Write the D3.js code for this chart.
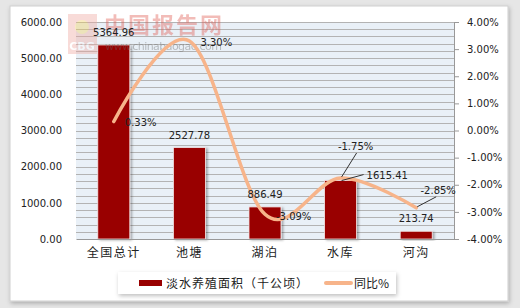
<!DOCTYPE html>
<html>
<head>
<meta charset="utf-8">
<script src="https://cdn.jsdelivr.net/npm/d3@7"></script>
<style>
  body { margin: 0; background: #e6e6e6; }
  text { font-family: "DejaVu Sans", sans-serif; }
  .cjk { font-family: "Noto Sans CJK SC", sans-serif; }
</style>
</head>
<body>
<div id="chart-area"></div>
<script>
// data
const categories = ["全国总计", "池塘", "湖泊", "水库", "河沟"]
const areaValues = [5364.96, 2527.78, 886.49, 1615.41, 213.74]
const yoyValues = [0.33, 3.30, -3.09, -1.75, -2.85]
const leftTicks = [0, 1000, 2000, 3000, 4000, 5000, 6000]
const rightTicks = [-4, -3, -2, -1, 0, 1, 2, 3, 4]
const seriesNames = ["淡水养殖面积（千公顷）", "同比%"]

const W = 520, H = 308
const PLOT = {LEFT: 76, RIGHT: 454, TOP: 22, BOTTOM: 239}

const svg = d3.select("#chart-area").append("svg")
  .attr("width", W)
  .attr("height", H)

const defs = svg.append("defs")
const sh = defs.append("filter").attr("id", "shadow")
  .attr("x", "-10%").attr("y", "-10%").attr("width", "130%").attr("height", "140%")
sh.append("feDropShadow").attr("dx", 1).attr("dy", 2).attr("stdDeviation", 2)
  .attr("flood-color", "#000").attr("flood-opacity", 0.25)
const bsh = defs.append("filter").attr("id", "barshadow")
  .attr("x", "-20%").attr("y", "-10%").attr("width", "150%").attr("height", "130%")
bsh.append("feDropShadow").attr("dx", 2).attr("dy", 1).attr("stdDeviation", 1.2)
  .attr("flood-color", "#000").attr("flood-opacity", 0.3)

// outer panel
svg.append("rect")
  .attr("x", 10).attr("y", 6).attr("width", 498).attr("height", 295)
  .attr("fill", "#fff")
  .attr("stroke", "#cfcfcf")
  .attr("filter", "url(#shadow)")

const x = d3.scaleBand()
  .domain(categories)
  .range([PLOT.LEFT, PLOT.RIGHT])

const yL = d3.scaleLinear().domain([0, 6000]).range([PLOT.BOTTOM, PLOT.TOP])
const yR = d3.scaleLinear().domain([-4, 4]).range([PLOT.BOTTOM, PLOT.TOP])

// plot background + minor grid
svg.append("rect")
  .attr("x", PLOT.LEFT).attr("y", PLOT.TOP)
  .attr("width", PLOT.RIGHT - PLOT.LEFT).attr("height", PLOT.BOTTOM - PLOT.TOP)
  .attr("fill", "#e9f0f7")

svg.append("g").selectAll("line")
  .data(d3.range(200, 6001, 200))
  .enter().append("line")
  .attr("x1", PLOT.LEFT).attr("x2", PLOT.RIGHT)
  .attr("y1", d => Math.round(yL(d)) + 0.5)
  .attr("y2", d => Math.round(yL(d)) + 0.5)
  .attr("stroke", "#b3b3b3")

// bars
const barW = 32
svg.append("g").selectAll("rect")
  .data(areaValues)
  .enter().append("rect")
  .attr("x", (d, i) => x(categories[i]) + x.bandwidth() / 2 - barW / 2)
  .attr("y", d => yL(d))
  .attr("width", barW)
  .attr("height", d => PLOT.BOTTOM - yL(d))
  .attr("fill", "#990000")
  .attr("stroke", "#f3e6e6")
  .attr("stroke-width", 0.8)
  .attr("filter", "url(#barshadow)")

// watermark (sits over the bars, semi transparent)
const wm = svg.append("g").attr("opacity", 0.4)
wm.append("rect")
  .attr("x", 68).attr("y", 14).attr("width", 29).attr("height", 40)
  .attr("fill", "#f0a8a0")
wm.append("circle")
  .attr("cx", 82).attr("cy", 27).attr("r", 7)
  .attr("fill", "#f2d060")
wm.append("text")
  .attr("x", 82).attr("y", 50).attr("text-anchor", "middle")
  .attr("font-size", 11).attr("font-weight", "bold").attr("fill", "#fff")
  .text("CBG")
wm.append("text").attr("class", "cjk")
  .attr("x", 104).attr("y", 33)
  .attr("font-size", 22).attr("font-weight", "bold")
  .attr("fill", "#e05a50")
  .attr("textLength", 118)
  .text("中国报告网")
wm.append("text")
  .attr("x", 105).attr("y", 50)
  .attr("font-size", 11).attr("fill", "#666")
  .attr("textLength", 117)
  .text("www.chinabaogao.com")

// axes
const leftAxis = svg.append("g")
  .attr("transform", `translate(${PLOT.LEFT},0)`)
  .call(d3.axisLeft(yL).tickValues(leftTicks).tickSize(0).tickPadding(14)
    .tickFormat(d => d.toFixed(2)))
leftAxis.select(".domain").remove()

const rightAxis = svg.append("g")
  .attr("transform", `translate(${PLOT.RIGHT},0)`)
  .call(d3.axisRight(yR).tickValues(rightTicks).tickSize(5).tickSizeOuter(0).tickPadding(8)
    .tickFormat(d => d.toFixed(2) + "%"))
rightAxis.select(".domain").attr("stroke", "#999")
rightAxis.selectAll(".tick line").attr("stroke", "#999")

const bottomAxis = svg.append("g")
  .attr("transform", `translate(0,${PLOT.BOTTOM})`)
  .call(d3.axisBottom(x).tickSize(0).tickPadding(9))
bottomAxis.select(".domain").attr("stroke", "#999")

svg.selectAll(".tick text").attr("font-size", 10).attr("fill", "#222")
bottomAxis.selectAll(".tick text")
  .attr("class", "cjk")
  .attr("font-size", 12)
  .attr("letter-spacing", 1.5)

// yoy line
const line = d3.line()
  .x((d, i) => x(categories[i]) + x.bandwidth() / 2)
  .y(d => yR(d))
  .curve(d3.curveCardinal.tension(0))

svg.append("path")
  .datum(yoyValues)
  .attr("d", line)
  .attr("fill", "none")
  .attr("stroke", "#f7b48a")
  .attr("stroke-width", 3.5)
  .attr("stroke-linecap", "round")

// bar labels (offsets from bar top center)
const barLabelOff = [
  {dx: 0, dy: -9, anchor: "middle"},
  {dx: 0, dy: -9, anchor: "middle"},
  {dx: 0, dy: -9, anchor: "middle"},
  {dx: 26, dy: -2, anchor: "start", leader: true},
  {dx: 0, dy: -9, anchor: "middle"}
]
const labels = svg.append("g").attr("font-size", 10).attr("fill", "#222")

areaValues.forEach((v, i) => {
  const cx = x(categories[i]) + x.bandwidth() / 2
  const o = barLabelOff[i]
  if (o.leader) {
    labels.append("line")
      .attr("x1", cx + 1).attr("y1", yL(v))
      .attr("x2", cx + o.dx - 3).attr("y2", yL(v) + o.dy - 4)
      .attr("stroke", "#333")
  }
  labels.append("text")
    .attr("x", cx + o.dx).attr("y", yL(v) + o.dy)
    .attr("text-anchor", o.anchor)
    .text(v.toFixed(2))
})

// yoy labels (offsets from point)
const yoyLabelOff = [
  {dx: 11, dy: 4, anchor: "start"},
  {dx: 11, dy: 5, anchor: "start"},
  {dx: 11, dy: 6, anchor: "start"},
  {dx: 15, dy: -28, anchor: "middle", lx: 16, ly: -25},
  {dx: 22, dy: -14, anchor: "middle", lx: 20, ly: -11}
]
yoyValues.forEach((v, i) => {
  const cx = x(categories[i]) + x.bandwidth() / 2
  const o = yoyLabelOff[i]
  if (o.lx) {
    labels.append("line")
      .attr("x1", cx + 1).attr("y1", yR(v) - 1)
      .attr("x2", cx + o.lx).attr("y2", yR(v) + o.ly)
      .attr("stroke", "#333")
  }
  labels.append("text")
    .attr("x", cx + o.dx).attr("y", yR(v) + o.dy)
    .attr("text-anchor", o.anchor)
    .text(v.toFixed(2) + "%")
})

// legend
const legend = svg.append("g")
legend.append("rect")
  .attr("x", 118).attr("y", 272).attr("width", 278).attr("height", 22)
  .attr("fill", "#fff")
  .attr("filter", "url(#shadow)")
legend.append("rect")
  .attr("x", 139).attr("y", 280).attr("width", 23).attr("height", 6)
  .attr("fill", "#990000")
legend.append("text").attr("class", "cjk")
  .attr("x", 166).attr("y", 287.5)
  .attr("font-size", 12).attr("letter-spacing", 1).attr("fill", "#222")
  .text(seriesNames[0])
legend.append("line")
  .attr("x1", 326).attr("x2", 351).attr("y1", 283).attr("y2", 283)
  .attr("stroke", "#f7b48a").attr("stroke-width", 4).attr("stroke-linecap", "round")
legend.append("text").attr("class", "cjk")
  .attr("x", 354).attr("y", 287.5)
  .attr("font-size", 12).attr("fill", "#222")
  .text(seriesNames[1])
</script>
</body>
</html>
